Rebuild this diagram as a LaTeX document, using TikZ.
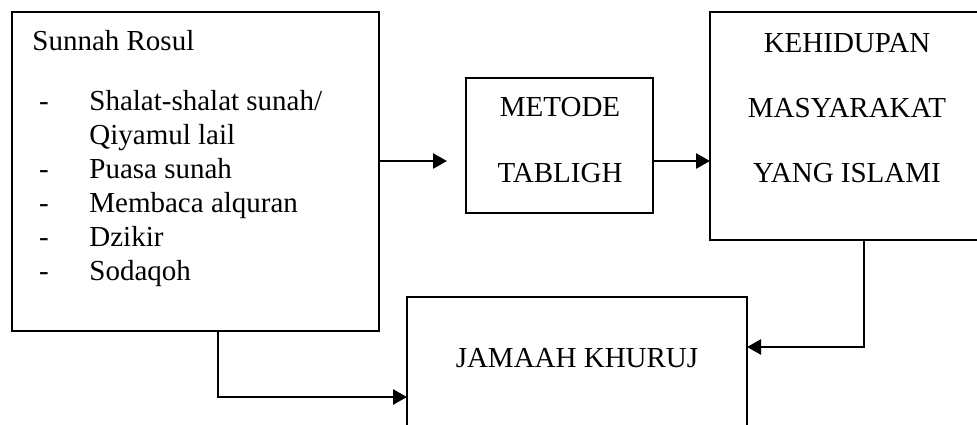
\documentclass[tikz,border=0pt]{standalone}
\usepackage{fontspec}
\setmainfont{Liberation Serif}
\usetikzlibrary{arrows.meta}

\begin{document}
\begin{tikzpicture}[x=0.5pt,y=-0.5pt,
    box/.style={draw,line width=0.9pt,inner sep=0pt,outer sep=0pt},
    txt/.style={inner sep=0pt,font=\fontsize{14.5}{17}\selectfont},
    arr/.style={line width=1.3pt,-{Triangle[length=7pt,width=7.5pt]}}]
    \useasboundingbox (0,0) rectangle (977,424);

    % boxes
    \node[box,minimum width=183.5pt,minimum height=159.5pt] (sunnah) at (195.5,171.5) {};
    \node[box,minimum width=93.5pt,minimum height=67.5pt] (metode) at (559.5,145.5) {};
    \node[box,minimum width=137pt,minimum height=114pt] (kehidupan) at (847,126) {};
    \node[box,minimum width=170pt,minimum height=70pt] (jamaah) at (577,367) {};

    % texts
    \node[txt,anchor=base west] (judul) at (32,50) {Sunnah Rosul};
    \node[txt,anchor=base] (d1) at (44,110) {-};
    \node[txt,anchor=base west] (s1) at (89,110) {Shalat-shalat sunah/};
    \node[txt,anchor=base west] (s1b) at (89,144) {Qiyamul lail};
    \node[txt,anchor=base] (d2) at (44,178) {-};
    \node[txt,anchor=base west] (s2) at (89,178) {Puasa sunah};
    \node[txt,anchor=base] (d3) at (44,212) {-};
    \node[txt,anchor=base west] (s3) at (89,212) {Membaca alquran};
    \node[txt,anchor=base] (d4) at (44,246) {-};
    \node[txt,anchor=base west] (s4) at (89,246) {Dzikir};
    \node[txt,anchor=base] (d5) at (44,280) {-};
    \node[txt,anchor=base west] (s5) at (89,280) {Sodaqoh};

    \node[txt,anchor=base] (m1) at (560,116) {METODE};
    \node[txt,anchor=base] (m2) at (560,182) {TABLIGH};

    \node[txt,anchor=base] (k1) at (847,52) {KEHIDUPAN};
    \node[txt,anchor=base] (k2) at (847,117) {MASYARAKAT};
    \node[txt,anchor=base] (k3) at (847,182) {YANG ISLAMI};

    \node[txt,anchor=base] (j1) at (577,367) {JAMAAH KHURUJ};

    % connectors
    \coordinate (row) at (0,161);
    \coordinate (turnR) at (864,347);
    \coordinate (turnL) at (218,397);
    \draw[arr,shorten >=9.5pt] (sunnah.east |- row) -- (metode.west |- row);
    \draw[arr] (metode.east |- row) -- (kehidupan.west |- row);
    \draw[arr] (turnR |- kehidupan.south) -- (turnR) -- (turnR -| jamaah.east);
    \draw[arr] (turnL |- sunnah.south) -- (turnL) -- (turnL -| jamaah.west);
\end{tikzpicture}
\end{document}
